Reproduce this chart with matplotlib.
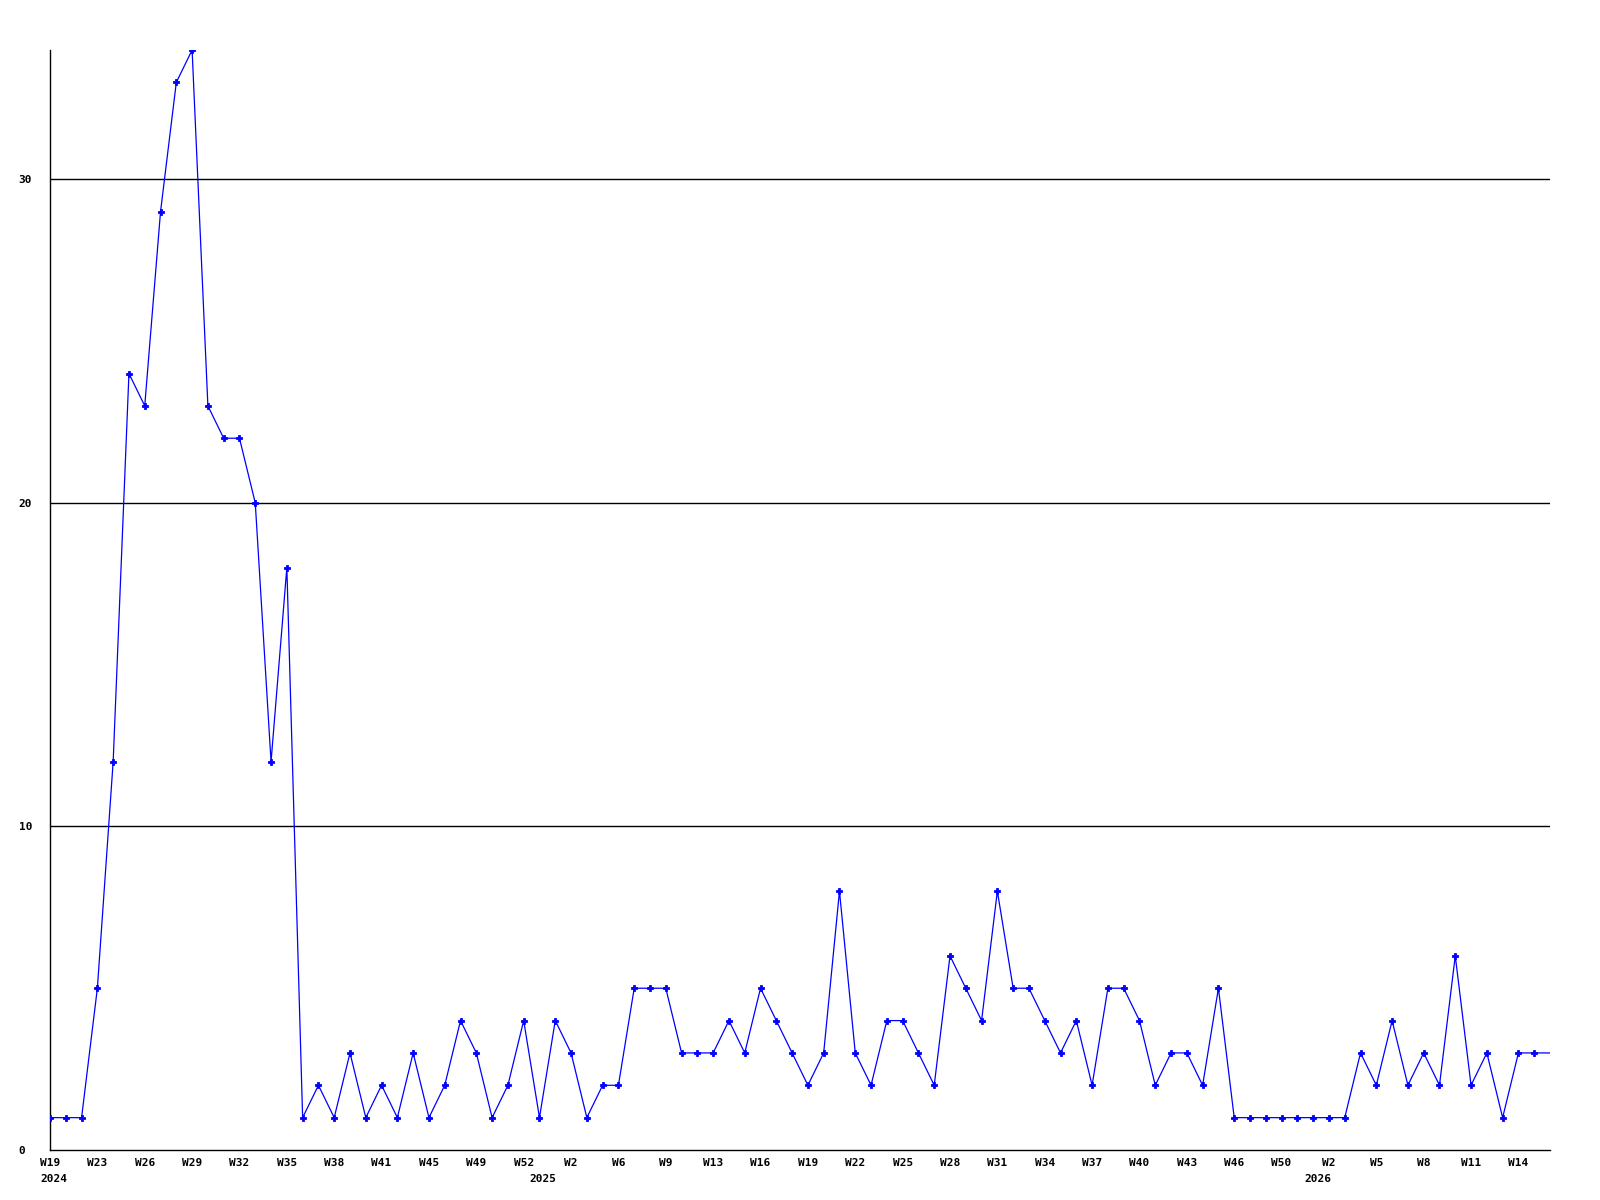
import matplotlib
matplotlib.use("Agg")
import matplotlib.pyplot as plt
import numpy as np

# weekly values (last value is the running, unmarked week)
values = [1, 1, 1, 5, 12, 24, 23, 29, 33, 34,
          23, 22, 22, 20, 12, 18, 1, 2, 1, 3,
          1, 2, 1, 3, 1, 2, 4, 3, 1, 2,
          4, 1, 4, 3, 1, 2, 2, 5, 5, 5,
          3, 3, 3, 4, 3, 5, 4, 3, 2, 3,
          8, 3, 2, 4, 4, 3, 2, 6, 5, 4,
          8, 5, 5, 4, 3, 4, 2, 5, 5, 4,
          2, 3, 3, 2, 5, 1, 1, 1, 1, 1,
          1, 1, 1, 3, 2, 4, 2, 3, 2, 6,
          2, 3, 1, 3, 3, 3]

week_labels = ["W19", "W23", "W26", "W29", "W32", "W35", "W38", "W41", "W45",
               "W49", "W52", "W2", "W6", "W9", "W13", "W16", "W19", "W22",
               "W25", "W28", "W31", "W34", "W37", "W40", "W43", "W46", "W50",
               "W2", "W5", "W8", "W11", "W14"]
label_step = 3

year_labels = ["2024", "2025", "2026"]
year_positions = [0.22, 31.2, 80.3]

y_ticks = [0, 10, 20, 30]
y_max = 34

font = {"family": "DejaVu Sans Mono", "weight": "bold", "size": 8}

fig = plt.figure(figsize=(16, 12), dpi=100)
ax = fig.add_axes([50 / 1600, 50 / 1200, 1500 / 1600, 1100 / 1200])

x = np.arange(len(values))
n_marked = len(values) - 1
ax.plot(x, values, color="#0000FF", linewidth=0.9, zorder=3)
ax.plot(x[:n_marked], values[:n_marked], linestyle="none", marker="P",
        markersize=4.5, color="#0000FF", markeredgecolor="#0000FF",
        markeredgewidth=0.6, zorder=4)

ax.set_xlim(0, len(values) - 1)
ax.set_ylim(0, y_max)

for yt in y_ticks[1:]:
    ax.axhline(yt, color="black", linewidth=1.0, zorder=1)

for side in ["top", "right"]:
    ax.spines[side].set_visible(False)
for side in ["left", "bottom"]:
    ax.spines[side].set_color("black")
    ax.spines[side].set_linewidth(1.0)

ax.set_yticks(y_ticks)
ax.set_yticklabels([str(v) for v in y_ticks], fontdict=font, ha="left")
ax.tick_params(axis="y", length=0, pad=22.5)

xt = np.arange(0, len(week_labels) * label_step, label_step)
ax.set_xticks(xt)
ax.set_xticklabels(week_labels, fontdict=font)
ax.tick_params(axis="x", length=0, pad=6)

for lbl, pos in zip(year_labels, year_positions):
    ax.annotate(lbl, xy=(pos, 0), xycoords=("data", "axes fraction"),
                xytext=(0, -21), textcoords="offset points",
                ha="center", va="center", fontsize=8,
                family="DejaVu Sans Mono", weight="bold")

fig.savefig("out.png", dpi=100, facecolor="white")
